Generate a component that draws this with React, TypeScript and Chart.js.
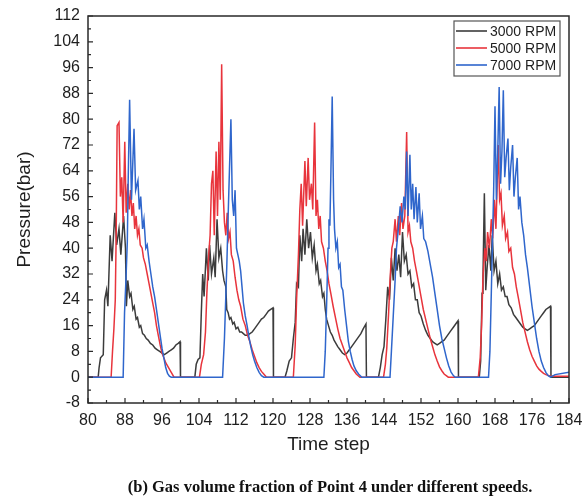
import React, { useEffect, useRef } from 'react';
import { Chart, registerables } from 'chart.js';

Chart.register(...registerables);

const xTitle = 'Time step';
const yTitle = 'Pressure(bar)';
const caption = '(b) Gas volume fraction of Point 4 under different speeds.';
const seriesLabels = ['3000 RPM', '5000 RPM', '7000 RPM'];
const seriesColors = ['#3c3c3c', '#e8343c', '#2f66cc'];

const xMin = 80, xMax = 184, xStep = 8;
const yMin = -8, yMax = 112, yStep = 8;

// [time step, pressure]
const rpm3000: [number, number][] = [
  [80,0],[82.2,0],[82.4,3],[82.7,6],[83.3,7],[83.6,24],[84,27],[84.3,22],[84.8,44],[85.2,36],[85.8,51],[86.2,41],[86.7,46],[87.1,38],[87.7,50],[88.1,40],[88.3,22],[88.6,30],[89,25],[89.3,26],[89.7,21],[90,22],[90.4,18],[90.7,18.5],[91.1,15.5],[91.4,16],[91.8,13.5],[92.2,13],[92.6,12],[93,11.5],[93.5,10.5],[94,10],[94.5,9],[95,8.5],[95.5,8],[96,7.5],[96.5,7],[97,7.5],[97.5,8],[98,8.5],[98.5,9],[99,10],[99.5,10.5],[99.9,11],[100,0],
  [103.1,0],[103.4,4],[103.8,5.5],[104.2,6],[104.5,20],[104.8,32],[105.1,25],[105.6,40],[106,30],[106.3,41],[106.7,32],[107.2,37],[107.5,31],[107.9,49],[108.3,37],[108.7,40],[109.1,33],[109.4,30],[109.8,28],[110,21],[110.3,20],[110.6,18],[110.9,18.5],[111.3,16.5],[111.6,17],[112,15],[112.4,15.5],[112.8,14],[113.2,14],[113.6,13.5],[114,13],[114.5,13],[115,13.5],[115.5,14],[116,15],[116.5,16],[117,17],[117.5,18],[118,18.5],[118.5,19.5],[119,20.5],[119.5,21],[120,21.5],[120.1,0],
  [122.6,0],[123,2],[123.5,5],[124,6],[124.4,12],[124.8,17],[125.1,29],[125.5,28],[125.8,44],[126.2,36],[126.5,46],[126.9,38],[127.3,49],[127.7,40],[128.1,45],[128.5,37],[128.9,41],[129.3,33],[129.6,35],[130,29],[130.3,30],[130.7,25],[131,26],[131.3,21],[131.6,18],[132,16],[132.4,14],[132.8,13],[133.2,11.5],[133.6,10.5],[134,9.5],[134.5,8.5],[135,7.5],[135.5,7],[136,7.5],[136.5,8.5],[137,9.5],[137.5,10.5],[138,11.5],[138.5,12.5],[139,13.5],[139.5,15],[140.1,16.5],[140.2,0],
  [142.8,0],[143.2,3],[143.6,7],[144,9.5],[144.4,18],[144.8,28],[145.2,24],[145.6,37],[146,30],[146.4,40],[146.8,33],[147.2,38],[147.6,31],[148,45],[148.4,36],[148.8,38],[149.2,32],[149.6,33],[150,28],[150.4,29],[150.8,24],[151.2,24],[151.6,20],[152,19],[152.5,16.5],[153,14.5],[153.5,13],[154,12],[154.5,11],[155,10.5],[155.5,10],[156,10.5],[156.5,11],[157,11.5],[157.5,12.5],[158,13.5],[158.5,14.5],[159,15.5],[159.5,16.5],[160,17.5],[160.1,0],
  [164.6,0],[164.9,5],[165.2,26],[165.4,31],[165.7,57],[166,27],[166.3,34],[166.7,41],[167.1,33],[167.4,44],[167.8,33],[168.2,36],[168.6,29],[169,32],[169.4,27],[169.8,28],[170.2,25],[170.6,25],[171,22.5],[171.5,21.5],[172,19.5],[172.5,18.5],[173,17.5],[173.5,16.5],[174,15.5],[174.5,15],[175,14.5],[175.5,15],[176,15.5],[176.5,16],[177,17],[177.5,18],[178,19],[178.5,20],[179,21],[179.5,21.5],[180,22],[180.1,0],[184,0]
];

const rpm5000: [number, number][] = [
  [80,0],[85,0],[85.3,8],[85.6,15],[85.9,24],[86.1,45],[86.3,78],[86.7,79],[87,56],[87.3,62],[87.6,48],[87.95,73],[88.25,51],[88.6,60],[88.9,52],[89.2,58],[89.5,50],[89.8,54],[90.1,46],[90.4,50],[90.7,44],[91,46],[91.3,41],[91.7,40],[92,37],[92.4,35],[92.8,32],[93.2,29],[93.6,26],[94,23],[94.4,20],[94.8,16],[95.2,13],[95.6,10],[96,7.5],[96.4,6],[96.8,4.5],[97.2,3.5],[97.6,2.5],[98,1.5],[98.6,0],
  [104.1,0],[104.5,4],[105,7],[105.4,14],[105.7,26],[106.1,38],[106.4,44],[106.7,60],[107,64],[107.3,44],[107.7,70],[108,50],[108.3,73],[108.6,55],[108.9,97],[109.2,58],[109.5,48],[109.8,44],[110.1,51],[110.4,43],[110.7,45],[111,38],[111.4,36],[111.8,31],[112.2,27],[112.6,24],[113,22],[113.5,18],[114,16],[114.5,13],[115,11],[115.5,8.5],[116,6.5],[116.5,4.5],[117,3],[117.5,1.8],[118,1],[118.6,0],
  [124.4,0],[124.8,10],[125.1,24],[125.5,38],[125.8,52],[126.1,60],[126.4,47],[126.9,67],[127.2,53],[127.6,68],[127.9,55],[128.3,60],[128.6,52],[129,79],[129.3,50],[129.6,55],[129.9,46],[130.2,50],[130.5,42],[130.9,40],[131.3,36],[131.7,33],[132.1,29],[132.5,26],[133,22],[133.5,18.5],[134,15],[134.5,12],[135,10],[135.5,8],[136,6],[136.5,4.5],[137,3],[137.5,2],[138,1],[138.8,0],
  [143.9,0],[144.3,4],[144.6,9],[145,20],[145.3,30],[145.7,40],[146,42],[146.4,49],[146.7,42],[147.1,50],[147.4,44],[147.8,54],[148.1,46],[148.5,50],[148.9,76],[149.2,45],[149.5,47],[149.8,42],[150.2,40],[150.6,36],[151,33],[151.5,29],[152,25],[152.5,21],[153,18],[153.5,15],[154,12],[154.5,9.5],[155,7],[155.5,5],[156,3.2],[156.5,2],[157,1],[157.9,0],
  [164.4,0],[164.8,6],[165.1,16],[165.4,31],[165.8,40],[166.1,36],[166.4,45],[166.8,40],[167.2,49],[167.5,43],[167.9,55],[168.2,46],[168.7,72],[169,55],[169.3,57],[169.6,47],[170,50],[170.3,43],[170.7,45],[171,39],[171.4,40],[171.8,34],[172.2,32],[172.6,28],[173,25],[173.5,21],[174,17],[174.5,14],[175,11],[175.5,8.5],[176,6.5],[176.5,5],[177,3.5],[177.5,2.5],[178,1.8],[178.5,1.2],[179,0.8],[180,0.3],[184,0.3]
];

const rpm7000: [number, number][] = [
  [80,0],[87.6,0],[87.9,20],[88.2,30],[88.5,42],[88.7,62],[89,86],[89.4,55],[89.95,77],[90.3,58],[90.8,61],[91.1,52],[91.4,56],[91.8,46],[92.1,49],[92.5,40],[92.8,41],[93.2,36],[93.6,32],[94,28],[94.4,25],[94.8,21],[95.2,17],[95.6,13],[96,9],[96.4,6],[96.8,3],[97.2,1.2],[97.6,0.3],[98,0],
  [109.1,0],[109.5,12],[110,34],[110.3,50],[110.6,65],[110.9,80],[111.2,55],[111.5,50],[111.8,58],[112.1,40],[112.4,38],[112.7,36],[113,33],[113.3,28],[113.6,23],[114,19],[114.4,16],[114.8,12.5],[115.2,9.5],[115.6,7],[116,5],[116.5,3],[117,1.5],[117.5,0.5],[118,0],
  [131,0],[131.3,8],[131.6,23],[131.9,40],[132.1,49],[132.3,47],[132.5,62],[132.8,87],[133.1,55],[133.3,46],[133.6,40],[133.9,42],[134.2,34],[134.5,35],[134.8,28],[135.1,27],[135.5,21],[135.9,16],[136.3,11],[136.7,8],[137.1,5.5],[137.5,3.5],[138,2],[138.5,1],[139.2,0],
  [145.3,0],[145.6,8],[146,19],[146.4,30],[146.7,40],[147.1,46],[147.5,53],[147.9,48],[148.3,56],[148.6,52],[148.9,70],[149.2,50],[149.6,69],[149.9,52],[150.2,60],[150.5,49],[150.9,59],[151.2,48],[151.6,57],[151.9,46],[152.3,50],[152.6,43],[153,42],[153.5,39],[154,35],[154.5,31],[155,26],[155.5,21],[156,16],[156.5,12],[157,9],[157.5,6],[158,3.5],[158.5,1.6],[159,0.5],[159.4,0],
  [166.6,0],[166.9,8],[167.2,26],[167.5,45],[167.7,57],[168,84],[168.3,55],[168.6,70],[168.9,90],[169.2,60],[169.5,70],[169.8,89],[170.1,62],[170.4,68],[170.8,74],[171.1,58],[171.4,65],[171.8,72],[172.1,56],[172.4,62],[172.8,68],[173.1,52],[173.4,56],[173.8,48],[174.2,44],[174.6,38],[175,34],[175.5,28],[176,22],[176.5,17],[177,12],[177.5,8],[178,5],[178.5,3],[179,1.5],[179.5,0.5],[180,0],[181,0.8],[184,1.5]
];

const seriesData = [rpm3000, rpm5000, rpm7000];

const AXIS_COLOR = '#2a2a2a';
const TEXT_COLOR = '#1e1e1e';
const SANS = '"Liberation Sans", Arial, sans-serif';

const framePlugin = {
  id: 'frameTicksLegend',
  afterDatasetsDraw(chart: any) {
    const { ctx, chartArea: a, scales } = chart;
    const xs = scales.x, ys = scales.y;
    ctx.save();
    ctx.strokeStyle = AXIS_COLOR;
    ctx.lineWidth = 1.5;
    ctx.strokeRect(a.left, a.top, a.right - a.left, a.bottom - a.top);
    ctx.lineWidth = 1.2;
    ctx.beginPath();
    const yTicks = ys.ticks.map((t: any) => t.value);
    yTicks.forEach((v: number, i: number) => {
      const py = ys.getPixelForValue(v);
      ctx.moveTo(a.left, py); ctx.lineTo(a.left + 5, py);
      if (i < yTicks.length - 1) {
        const pm = ys.getPixelForValue((v + yTicks[i + 1]) / 2);
        ctx.moveTo(a.left, pm); ctx.lineTo(a.left + 3, pm);
      }
    });
    const xTicks = xs.ticks.map((t: any) => t.value);
    xTicks.forEach((v: number, i: number) => {
      const px = xs.getPixelForValue(v);
      ctx.moveTo(px, a.bottom); ctx.lineTo(px, a.bottom - 5);
      if (i < xTicks.length - 1) {
        const pm = xs.getPixelForValue((v + xTicks[i + 1]) / 2);
        ctx.moveTo(pm, a.bottom); ctx.lineTo(pm, a.bottom - 3);
      }
    });
    ctx.stroke();

    const bw = 106, rowH = 17;
    const bh = rowH * seriesLabels.length + 4;
    const bx = a.right - 9 - bw;
    const by = a.top + 5;
    ctx.fillStyle = '#ffffff';
    ctx.fillRect(bx, by, bw, bh);
    ctx.strokeStyle = '#555';
    ctx.lineWidth = 1.2;
    ctx.strokeRect(bx, by, bw, bh);
    ctx.font = `14px ${SANS}`;
    ctx.textBaseline = 'middle';
    ctx.textAlign = 'left';
    seriesLabels.forEach((lab, i) => {
      const cy = by + 10 + i * rowH;
      ctx.strokeStyle = seriesColors[i];
      ctx.lineWidth = 1.6;
      ctx.beginPath();
      ctx.moveTo(bx + 2, cy); ctx.lineTo(bx + 33, cy);
      ctx.stroke();
      ctx.fillStyle = TEXT_COLOR;
      ctx.fillText(lab, bx + 36, cy + 1);
    });
    ctx.restore();
  }
};

export default function App() {
  const ref = useRef<HTMLCanvasElement | null>(null);
  useEffect(() => {
    if (!ref.current) return;
    const orders = [3, 2, 1];
    const chart = new Chart(ref.current, {
      type: 'line',
      data: {
        datasets: seriesData.map((s, i) => ({
          label: seriesLabels[i],
          data: s.map(([x, y]) => ({ x, y })),
          borderColor: seriesColors[i],
          backgroundColor: seriesColors[i],
          borderWidth: 1.5,
          pointRadius: 0,
          tension: 0,
          fill: false,
          order: orders[i],
        })),
      },
      options: {
        responsive: false,
        animation: false,
        events: [],
        layout: { padding: { left: 0, right: 13, top: 16, bottom: 0 } },
        plugins: { legend: { display: false }, tooltip: { enabled: false } },
        scales: {
          x: {
            type: 'linear',
            min: xMin, max: xMax,
            ticks: { stepSize: xStep, color: TEXT_COLOR, font: { family: SANS, size: 16 }, padding: 8, maxRotation: 0 },
            grid: { display: false, drawTicks: false },
            border: { display: false },
            title: { display: true, text: xTitle, color: TEXT_COLOR, font: { family: SANS, size: 19 }, padding: { top: 0, bottom: 42 } },
            afterFit: (s: any) => { s.height = 95; s.paddingLeft = 0; s.paddingRight = 0; },
          },
          y: {
            type: 'linear',
            min: yMin, max: yMax,
            ticks: { stepSize: yStep, color: TEXT_COLOR, font: { family: SANS, size: 16 }, padding: 8 },
            grid: { display: false, drawTicks: false },
            border: { display: false },
            title: { display: true, text: yTitle, color: TEXT_COLOR, font: { family: SANS, size: 19 }, padding: { top: 13, bottom: 0 } },
            afterFit: (s: any) => { s.width = 88; s.paddingTop = 0; s.paddingBottom = 0; },
          },
        },
      } as any,
      plugins: [framePlugin],
    });
    return () => chart.destroy();
  }, []);

  return (
    <div style={{ position: 'absolute', left: 0, top: 0, width: 582, height: 498, background: '#fff' }}>
      <canvas ref={ref} width={582} height={498} style={{ display: 'block' }} />
      <div
        style={{
          position: 'absolute',
          left: 330,
          top: 477,
          transform: 'translateX(-50%)',
          whiteSpace: 'nowrap',
          fontFamily: '"Liberation Serif", "Times New Roman", serif',
          fontWeight: 'bold',
          fontSize: 16.5,
          lineHeight: '20px',
          color: '#111',
        }}
      >
        {caption}
      </div>
    </div>
  );
}
